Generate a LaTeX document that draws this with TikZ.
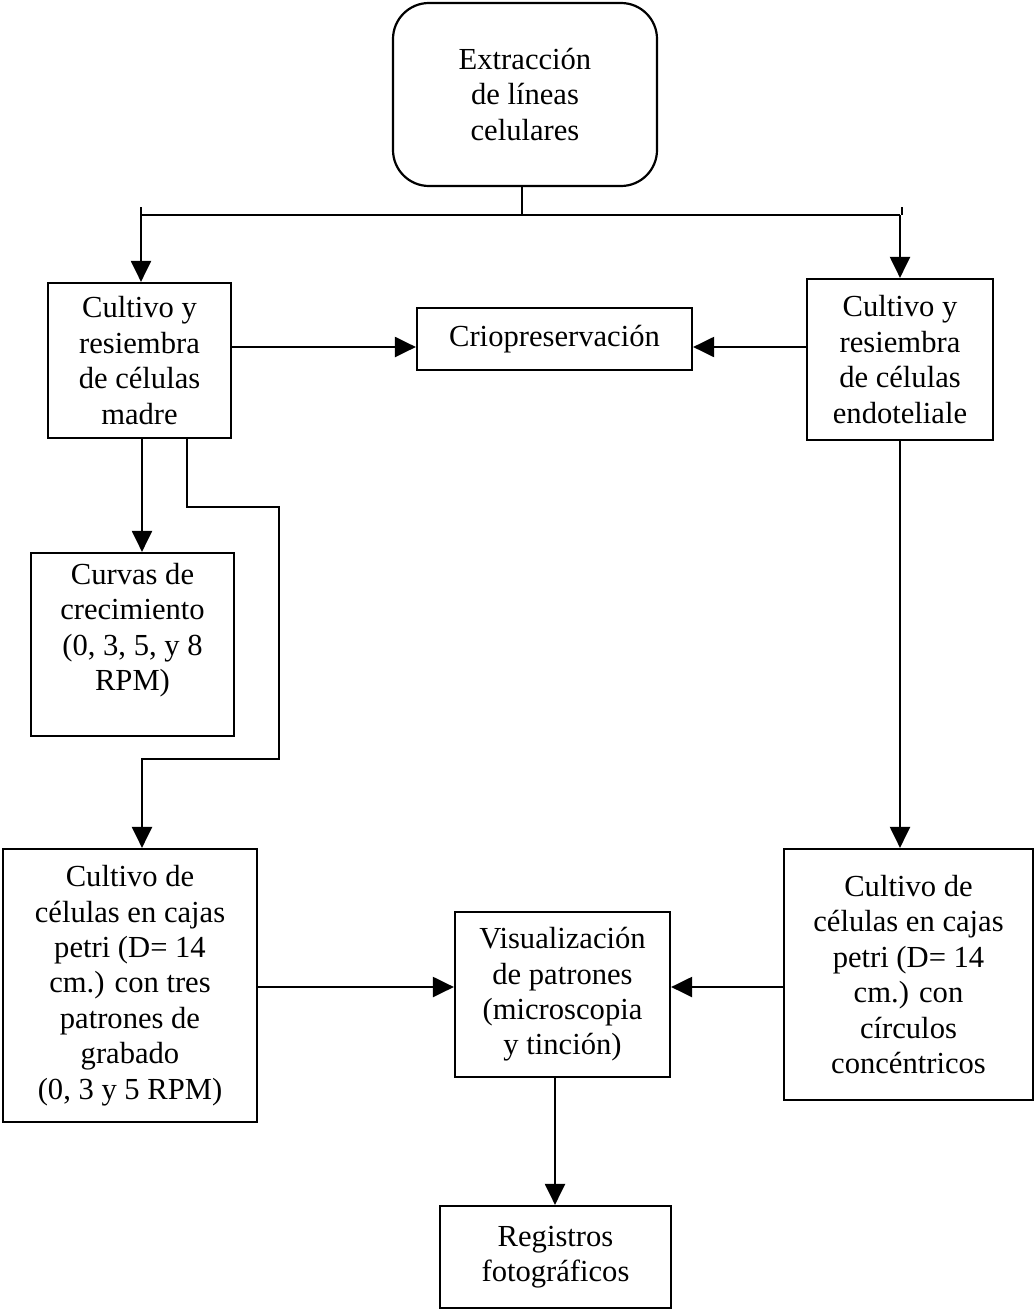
\documentclass[tikz,border=0pt]{standalone}
\usepackage{fontspec}
\setmainfont{Liberation Serif}
\usetikzlibrary{arrows.meta}
\begin{document}
\begin{tikzpicture}[x=0.5pt,y=-0.5pt,
  box/.style={draw, line width=1.1pt, inner sep=0pt, align=center, font=\fontsize{15.3}{17.7}\selectfont},
  rbox/.style={box, rounded corners=18pt},
  conn/.style={line width=1.1pt},
  arr/.style={conn, -{Triangle[length=10.5pt,width=10pt]}}]
\useasboundingbox (0,0) rectangle (1036,1311);
\node[rbox, minimum width=132pt, minimum height=91.5pt] (top) at (525,94.5) {Extracción\\de líneas\\celulares};
\node[box, minimum width=91.5pt, minimum height=77.5pt] (A) at (139.5,360.5) {\rule{0pt}{10pt}Cultivo y\\resiembra\\de células\\madre};
\node[box, minimum width=137.5pt, minimum height=31pt] (crio) at (554.5,339) {Criopreservación};
\node[box, minimum width=93pt, minimum height=80.5pt] (B) at (900,359.5) {\rule{0pt}{10pt}Cultivo y\\resiembra\\de células\\endoteliale};
\node[box, minimum width=101.5pt, minimum height=91.5pt] (curv) at (132.5,644.5) {Curvas de\\crecimiento\\(0, 3, 5, y 8\\RPM)\\~};
\node[box, minimum width=127pt, minimum height=136.5pt] (C) at (130,985.5) {Cultivo de\\células en cajas\\petri (D= 14\\cm.) con tres\\patrones de\\grabado\\(0, 3 y 5 RPM)};
\node[box, minimum width=124.5pt, minimum height=125.5pt] (D) at (908.5,974.5) {Cultivo de\\células en cajas\\petri (D= 14\\cm.) con\\círculos\\concéntricos};
\node[box, minimum width=107.5pt, minimum height=82.5pt] (V) at (562.5,994.5) {Visualización\\de patrones\\(microscopia\\y tinción)};
\node[box, minimum width=115.5pt, minimum height=51pt] (R) at (555.5,1257) {Registros\\fotográficos};
\coordinate (split) at (522,215);
\coordinate (sl) at (141,215);
\coordinate (sr) at (900,215);
\draw[conn] (top.south -| split) -- (split);
\draw[conn] (sl) -- (sr);
\draw[conn] (141,207) -- (sl);
\draw[conn] (902,207) -- (902,215);
\draw[arr] (sl) -- (A.north -| sl);
\draw[arr] (sr) -- (B.north -| sr);
\draw[arr] (A.east |- 0,347) -- (crio.west |- 0,347);
\draw[arr] (B.west |- 0,347) -- (crio.east |- 0,347);
\draw[arr] (A.south -| 142,0) -- (curv.north -| 142,0);
\draw[arr] (A.south -| 187,0) -- (187,507) -- (279,507) -- (279,759) -- (142,759) -- (C.north -| 142,0);
\draw[arr] (B.south -| sr) -- (D.north -| sr);
\draw[arr] (C.east |- 0,987) -- (V.west |- 0,987);
\draw[arr] (D.west |- 0,987) -- (V.east |- 0,987);
\draw[arr] (V.south -| 555,0) -- (R.north -| 555,0);
\end{tikzpicture}
\end{document}
